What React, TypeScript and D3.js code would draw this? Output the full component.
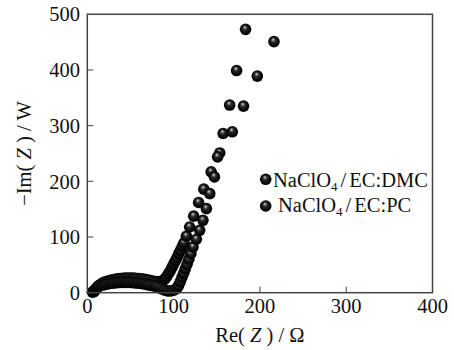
import React from "react";
import * as d3 from "d3";

// EIS (Nyquist) data: Re(Z) and -Im(Z), in ohm
const dmcRe = [8, 10, 12, 14, 16, 18, 20, 23, 26, 29, 32, 35, 38, 41, 44, 47, 50, 53, 56, 59, 62, 65, 68, 71, 74, 77, 80, 83, 86, 88, 90, 92, 94, 96, 98, 100, 102, 104, 106, 108, 110, 112, 114.8, 118.6, 123.3, 129, 135, 143.5, 153.5, 157.4, 165, 173, 183.4];
const dmcIm = [2, 7, 11, 13.5, 15.5, 17.5, 19, 20.5, 22, 23, 24, 25, 25.5, 26, 26.5, 26.5, 26.5, 26.5, 26, 25.5, 25, 24.5, 23.5, 22.5, 21.5, 20.5, 20, 20, 20.5, 22, 25, 29, 34, 39, 45, 51, 57, 63, 70, 76, 83, 89.5, 101.5, 118, 137.5, 162, 186, 217, 251, 286, 337, 399, 473];

const pcRe = [6, 8, 10, 12, 14, 17, 20, 23, 26, 29, 32, 35, 38, 41, 44, 47, 50, 53, 56, 59, 62, 65, 68, 71, 74, 77, 80, 83, 86, 89, 92, 95, 98, 101, 104, 105.8, 107.8, 109.8, 111.7, 113.6, 115.6, 117.7, 120, 122.5, 126.4, 130.2, 134, 138, 141.9, 147.3, 151, 168, 181, 197, 216.3];
const pcIm = [1, 4, 7, 10, 12, 13.5, 14.5, 15.5, 16.5, 17, 17.5, 18, 18.3, 18.5, 18.5, 18.5, 18.3, 18, 17.5, 17, 16.5, 16, 15, 14, 13, 12, 11, 9, 7, 5, 3.5, 3, 3.5, 5, 8, 13, 20, 28, 35, 43, 51, 60, 70, 82, 96, 112, 130, 151, 178, 208, 244, 289, 335, 389, 451];

const xTicks = [0, 100, 200, 300, 400];
const yTicks = [0, 100, 200, 300, 400, 500];

const font = "'Liberation Serif', 'Times New Roman', serif";

export default function App() {
  const width = 454;
  const height = 350;
  const left = 87.3;
  const right = 432.5;
  const top = 14.3;
  const bottom = 292.7;

  const x = d3.scaleLinear().domain([0, 400]).range([left, right]);
  const y = d3.scaleLinear().domain([0, 500]).range([bottom, top]);
  const r = 5.8;

  const dmc = dmcRe.map((v, i) => [v, dmcIm[i]]);
  const pc = pcRe.map((v, i) => [v, pcIm[i]]);

  return (
    <svg
      width={width}
      height={height}
      style={{ position: "absolute", left: 0, top: 0, background: "#fff" }}
      fontFamily={font}
    >
      <defs>
        <radialGradient id="ball" cx="50%" cy="50%" r="55%" fx="42%" fy="30%">
          <stop offset="0%" stopColor="#e6e6e6" />
          <stop offset="14%" stopColor="#8a8a8a" />
          <stop offset="35%" stopColor="#2a2a2a" />
          <stop offset="75%" stopColor="#050505" />
          <stop offset="100%" stopColor="#000" />
        </radialGradient>
      </defs>

      {/* ticks */}
      {xTicks.slice(1, -1).map((t) => (
        <line key={"xt" + t} x1={x(t)} x2={x(t)} y1={bottom} y2={bottom - 6} stroke="#444" strokeWidth={1} />
      ))}
      {yTicks.slice(1, -1).map((t) => (
        <line key={"yt" + t} x1={left} x2={left + 6} y1={y(t)} y2={y(t)} stroke="#444" strokeWidth={1} />
      ))}

      {/* data */}
      <g>
        {dmc.map((d, i) => (
          <circle key={"a" + i} cx={x(d[0])} cy={y(d[1])} r={r} fill="url(#ball)" />
        ))}
        {pc.map((d, i) => (
          <circle key={"b" + i} cx={x(d[0])} cy={y(d[1])} r={r} fill="url(#ball)" />
        ))}
      </g>

      <rect x={left} y={top} width={right - left} height={bottom - top} fill="none" stroke="#444" strokeWidth={1.5} />

      {/* tick labels */}
      {xTicks.map((t) => (
        <text key={"xl" + t} x={x(t)} y={313} textAnchor="middle" fontSize={20.5} fill="#111">
          {t}
        </text>
      ))}
      {yTicks.map((t) => (
        <text key={"yl" + t} x={80} y={y(t)} dy="0.35em" textAnchor="end" fontSize={20.5} fill="#111">
          {t}
        </text>
      ))}

      {/* axis titles */}
      <text x={(left + right) / 2} y={342} textAnchor="middle" fontSize={20.5} fill="#111">
        Re( <tspan fontStyle="italic">Z</tspan> ) / Ω
      </text>
      <text
        transform={`translate(31,${(top + bottom) / 2}) rotate(-90)`}
        textAnchor="middle"
        fontSize={20.5}
        fill="#111"
      >
        −Im( <tspan fontStyle="italic">Z</tspan> ) / W
      </text>

      {/* legend */}
      <circle cx={265.7} cy={179.3} r={r} fill="url(#ball)" />
      <circle cx={265.7} cy={206} r={r} fill="url(#ball)" />
      <text x={273} y={187} fontSize={20.5} fill="#111">
        NaClO<tspan fontSize={13} dy={4}>4</tspan>
        <tspan dy={-4} dx={3}>/</tspan>
        <tspan dx={3}>EC:DMC</tspan>
      </text>
      <text x={278} y={212} fontSize={20.5} fill="#111">
        NaClO<tspan fontSize={13} dy={4}>4</tspan>
        <tspan dy={-4} dx={3}>/</tspan>
        <tspan dx={3}>EC:PC</tspan>
      </text>
    </svg>
  );
}
